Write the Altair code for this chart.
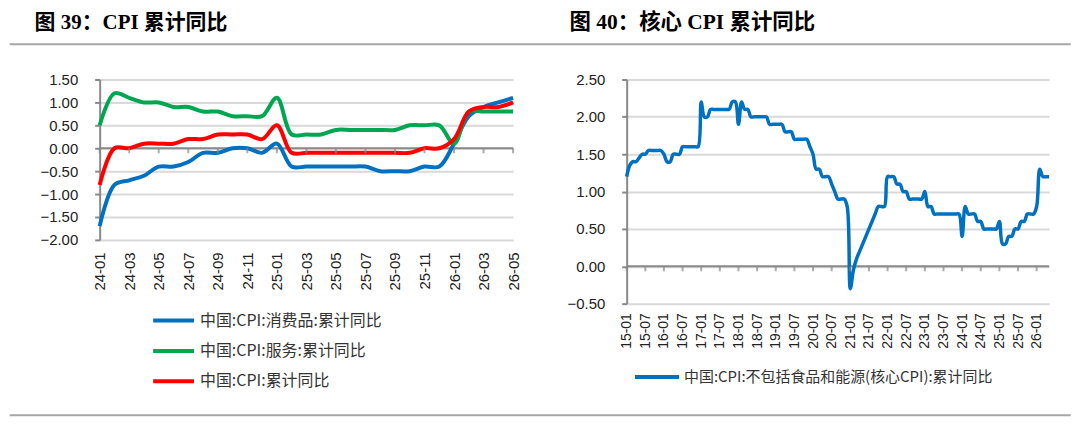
import altair as alt
import pandas as pd

# ---------------- data: left panel (图 39) ----------------
left_months = [f"{yy}-{mm:02d}" for yy in (24, 25, 26) for mm in range(1, 13)][:29]
left_ticks = left_months[::2]

consumer = [-1.7, -0.8, -0.7, -0.6, -0.4, -0.4, -0.3, -0.1, -0.1, 0.0, 0.0, -0.1,
            0.1, -0.4, -0.4, -0.4, -0.4, -0.4, -0.4, -0.5, -0.5, -0.5, -0.4, -0.4,
            0.1, 0.7, 0.9, 1.0, 1.1]
services = [0.5, 1.2, 1.1, 1.0, 1.0, 0.9, 0.9, 0.8, 0.8, 0.7, 0.7, 0.7,
            1.1, 0.3, 0.3, 0.3, 0.4, 0.4, 0.4, 0.4, 0.4, 0.5, 0.5, 0.5,
            0.1, 0.8, 0.8, 0.8, 0.8]
cpi_total = [-0.8, 0.0, 0.0, 0.1, 0.1, 0.1, 0.2, 0.2, 0.3, 0.3, 0.3, 0.2,
             0.5, -0.1, -0.1, -0.1, -0.1, -0.1, -0.1, -0.1, -0.1, -0.1, 0.0, 0.0,
             0.2, 0.8, 0.9, 0.9, 1.0]
left_series = ["中国:CPI:消费品:累计同比", "中国:CPI:服务:累计同比", "中国:CPI:累计同比"]
left_colors = ["#0070C0", "#00A650", "#FF0000"]
left_yticks = [-2.0, -1.5, -1.0, -0.5, 0.0, 0.5, 1.0, 1.5]
left_title = "图 39：CPI 累计同比"

# ---------------- data: right panel (图 40) ----------------
right_months = [f"{yy}-{mm:02d}" for yy in range(15, 27) for mm in range(1, 13)][:137]
right_ticks = right_months[::6]
core = [
    1.2, 1.35, 1.4, 1.4, 1.45, 1.5, 1.5, 1.55, 1.55, 1.55, 1.55, 1.55,   # 2015
    1.5, 1.4, 1.4, 1.5, 1.5, 1.5, 1.6, 1.6, 1.6, 1.6, 1.6, 1.6,          # 2016
    2.2, 2.0, 2.0, 2.1, 2.1, 2.1, 2.1, 2.1, 2.1, 2.1, 2.2, 2.2,          # 2017
    1.9, 2.2, 2.1, 2.1, 2.0, 2.0, 2.0, 2.0, 2.0, 2.0, 1.9, 1.9,          # 2018
    1.9, 1.9, 1.9, 1.8, 1.8, 1.8, 1.7, 1.7, 1.7, 1.7, 1.7, 1.6,          # 2019
    1.5, 1.3, 1.3, 1.2, 1.2, 1.2, 1.1, 1.0, 0.9, 0.9, 0.9, 0.8,          # 2020
    -0.3, -0.05, 0.1, 0.2, 0.3, 0.4, 0.5, 0.6, 0.7, 0.8, 0.8, 0.8,       # 2021
    1.2, 1.2, 1.2, 1.1, 1.1, 1.0, 1.0, 0.9, 0.9, 0.9, 0.9, 0.9,          # 2022
    1.0, 0.8, 0.8, 0.7, 0.7, 0.7, 0.7, 0.7, 0.7, 0.7, 0.7, 0.7,          # 2023
    0.4, 0.8, 0.7, 0.7, 0.7, 0.6, 0.6, 0.5, 0.5, 0.5, 0.5, 0.5,          # 2024
    0.6, 0.3, 0.3, 0.4, 0.4, 0.5, 0.5, 0.6, 0.6, 0.7, 0.7, 0.7,          # 2025
    0.8, 1.3, 1.2, 1.2, 1.2,                                             # 2026
]
right_series = ["中国:CPI:不包括食品和能源(核心CPI):累计同比"]
right_colors = ["#0070C0"]
right_yticks = [-0.5, 0.0, 0.5, 1.0, 1.5, 2.0, 2.5]
right_title = "图 40：核心 CPI 累计同比"

# ---------------- styling ----------------
AXIS_GRAY = "#898989"
GRID_GRAY = "#D9D9D9"
LINE_GRAY = "#A6A6A6"
NUM_FONT = "Liberation Sans"
CJK_FONT = "Noto Sans CJK SC"
TITLE_FONT = "Liberation Serif, Noto Sans CJK SC"

LW, LH = 415, 161
RW, RH = 424, 225
GAP = 114


def x_enc(domain, ticks, pad, fsize):
    return alt.X(
        "month:O",
        scale=alt.Scale(type="point", padding=0, domain=domain),
        axis=alt.Axis(values=ticks, labelAngle=-90, labelFont=NUM_FONT, labelFontSize=fsize,
                      labelColor="#222222", labelPadding=pad, ticks=False, tickSize=0,
                      domain=False, grid=False, title=None, labelOverlap=False),
    )


def y_enc(lo, hi, ticks):
    return alt.Y(
        "value:Q",
        scale=alt.Scale(domain=[lo, hi], nice=False, zero=False),
        axis=alt.Axis(values=ticks, format=".2f", labelFont=NUM_FONT, labelFontSize=15,
                      labelColor="#222222", labelPadding=17, tickSize=5, tickColor=AXIS_GRAY,
                      tickWidth=2, domainColor=AXIS_GRAY, domainWidth=2, gridColor=GRID_GRAY,
                      gridWidth=2, title=None),
    )


def panel(months, ticks, series_list, colors, values_list, lo, hi, yticks,
          xpad, xfont, legend_xy, sym_size, label_offset, row_pad, stroke_w, legend_font):
    rows = []
    for name, vals in zip(series_list, values_list):
        for m, v in zip(months, vals):
            rows.append({"month": m, "value": v, "series": name})
    df = pd.DataFrame(rows)

    X = x_enc(months, ticks, xpad, xfont)
    Y = y_enc(lo, hi, yticks)

    zero = alt.Chart(pd.DataFrame({"value": [0.0]})).mark_rule(
        color=AXIS_GRAY, strokeWidth=2).encode(y=Y)
    tick_marks = alt.Chart(pd.DataFrame({"month": ticks, "value": [0.0] * len(ticks)})).mark_tick(
        orient="vertical", size=5, thickness=2, color=AXIS_GRAY, yOffset=2.5
    ).encode(x=X, y=Y)
    lines = alt.Chart(df).mark_line(interpolate="catmull-rom", strokeWidth=stroke_w).encode(
        x=X,
        y=Y,
        color=alt.Color(
            "series:N",
            scale=alt.Scale(domain=series_list, range=colors),
            legend=alt.Legend(
                orient="none", legendX=legend_xy[0], legendY=legend_xy[1], title=None,
                direction="vertical", symbolType="M-2,0H2", symbolSize=sym_size,
                symbolStrokeWidth=4, labelFont=CJK_FONT, labelFontSize=legend_font,
                labelColor="#333333", labelOffset=label_offset, rowPadding=row_pad,
                padding=0, labelLimit=500,
            ),
        ),
    )
    return zero, tick_marks, lines


lz, lt, ll = panel(left_months, left_ticks, left_series, left_colors,
                   [consumer, services, cpi_total], -2.0, 1.5, left_yticks,
                   12, 15, (61.7, 229.5), 420.25, 14, 9.5, 4, 16)
rz, rt, rl = panel(right_months, right_ticks, right_series, right_colors,
                   [core], -0.5, 2.5, right_yticks,
                   9, 14, (17, 285.2), 490.6, 13.6, 0, 3.5, 15)

# decorations: titles and separator lines
left_title_layer = alt.Chart(pd.DataFrame({"t": [left_title]})).mark_text(
    align="left", baseline="alphabetic", font=TITLE_FONT, fontSize=21, fontWeight="bold",
    color="#000000").encode(x=alt.value(33 - 98.3), y=alt.value(28.5 - 79), text="t:N")
right_title_layer = alt.Chart(pd.DataFrame({"t": [right_title]})).mark_text(
    align="left", baseline="alphabetic", font=TITLE_FONT, fontSize=21.5, fontWeight="bold",
    color="#000000").encode(x=alt.value(570 - 627.3), y=alt.value(28.5 - 79), text="t:N")

sep = pd.DataFrame({"k": [0]})
top_line = alt.Chart(sep).mark_rule(color=LINE_GRAY, strokeWidth=2).encode(
    x=alt.value(-90.3), x2=alt.value(1073 - 98.3), y=alt.value(43.5 - 79))
bottom_line = alt.Chart(sep).mark_rule(color=LINE_GRAY, strokeWidth=2).encode(
    x=alt.value(-90.3), x2=alt.value(1073 - 98.3), y=alt.value(416 - 79))
anchor = alt.Chart(sep).mark_rule(strokeOpacity=0, strokeWidth=1).encode(
    x=alt.value(-90.3), x2=alt.value(-80), y=alt.value(-71))

left = alt.layer(anchor, top_line, bottom_line, left_title_layer, lz, ll, lt).properties(
    width=LW, height=LH)
right = alt.layer(right_title_layer, rz, rl, rt).properties(width=RW, height=RH)

chart = alt.hconcat(left, right, spacing=GAP, bounds="flush").resolve_scale(
    x="independent", y="independent", color="independent"
).configure_view(stroke=None).properties(padding=0, background="white")

chart.save("out.html", embed_options={"renderer": "svg", "actions": False})
